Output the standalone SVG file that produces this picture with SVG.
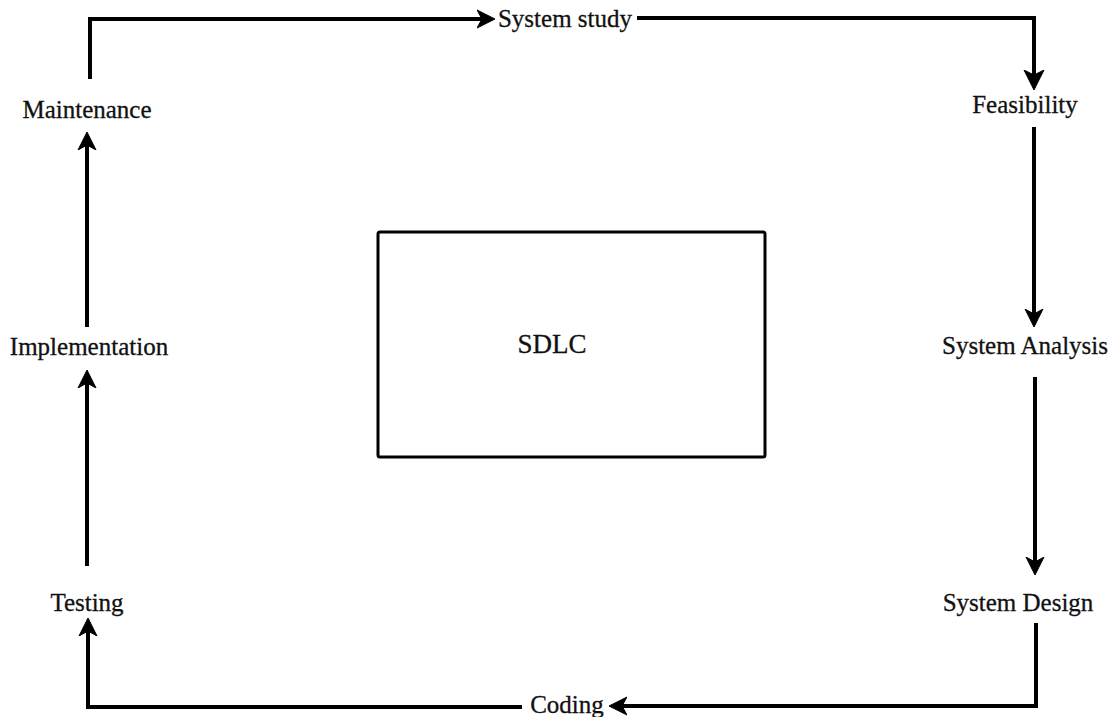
<svg xmlns="http://www.w3.org/2000/svg" width="1115" height="717" viewBox="0 0 1115 717">
<style>
.lbl{font-family:"Liberation Serif","Times New Roman",serif;font-size:25px;fill:#111;text-anchor:middle;stroke:#111;stroke-width:0.3}
.conn{fill:none;stroke:#000;stroke-width:4;stroke-linejoin:miter}
</style>
<defs>
<marker id="ah" markerUnits="userSpaceOnUse" viewBox="0 0 18 20" refX="5" refY="10" markerWidth="18" markerHeight="20" orient="auto">
<path d="M0,1 L18,10 L0,19 L5,10 Z" fill="#000" stroke="#000" stroke-width="1" stroke-linejoin="round"/>
</marker>
<marker id="ahl" markerUnits="userSpaceOnUse" viewBox="0 0 20 22" refX="5" refY="11" markerWidth="20" markerHeight="22" orient="auto">
<path d="M0,1 L20,11 L0,21 L5,11 Z" fill="#000" stroke="#000" stroke-width="1" stroke-linejoin="round"/>
</marker>
</defs>
<rect width="1115" height="717" fill="#fff"/>
<g id="connectors">
<path class="conn" d="M90,79 V19 H482" marker-end="url(#ah)"/>
<path class="conn" d="M637,18 H1034 V75" marker-end="url(#ahl)"/>
<path class="conn" d="M1034,127 V314" marker-end="url(#ah)"/>
<path class="conn" d="M1035,377 V562" marker-end="url(#ah)"/>
<path class="conn" d="M1036,623 V706 H622" marker-end="url(#ah)"/>
<path class="conn" d="M522,707 H88 V631" marker-end="url(#ah)"/>
<path class="conn" d="M87,566 V383" marker-end="url(#ah)"/>
<path class="conn" d="M87,327 V145" marker-end="url(#ah)"/>
</g>
<g id="sdlc">
<rect x="378" y="232" width="387" height="225" rx="2" fill="none" stroke="#000" stroke-width="3"/>
<text class="lbl" x="552" y="353" style="font-size:27px">SDLC</text>
</g>
<g id="system-study"><text class="lbl" x="565" y="27">System study</text></g>
<g id="feasibility"><text class="lbl" x="1025" y="113">Feasibility</text></g>
<g id="system-analysis"><text class="lbl" x="1025" y="354">System Analysis</text></g>
<g id="system-design"><text class="lbl" x="1018" y="611">System Design</text></g>
<g id="coding"><text class="lbl" x="567" y="713">Coding</text></g>
<g id="testing"><text class="lbl" x="87" y="611">Testing</text></g>
<g id="implementation"><text class="lbl" x="89" y="355">Implementation</text></g>
<g id="maintenance"><text class="lbl" x="87" y="118">Maintenance</text></g>
</svg>
